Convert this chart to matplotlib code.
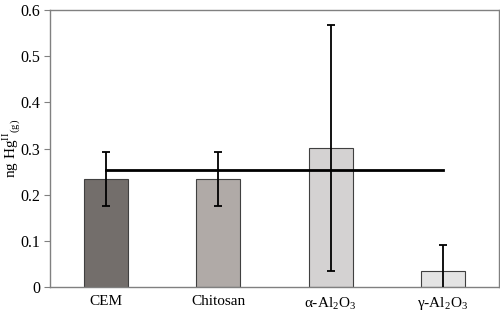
import matplotlib.pyplot as plt
import numpy as np

plt.rcParams["font.family"] = ["Liberation Serif", "DejaVu Serif"]
plt.rcParams["mathtext.fontset"] = "custom"
plt.rcParams["mathtext.rm"] = "Liberation Serif"

categories = ["CEM", "Chitosan", r"α-Al$_\mathregular{2}$O$_\mathregular{3}$",
              r"γ-Al$_\mathregular{2}$O$_\mathregular{3}$"]
values = [0.234, 0.234, 0.301, 0.035]
errors = [0.058, 0.058, 0.266, 0.056]
mean_line = 0.253
colors = ["#736e6b", "#b0aaa7", "#d4d2d2", "#e4e4e4"]


def plot():
    fig = plt.figure(figsize=(5.0, 3.16), dpi=100)
    ax = fig.add_axes([0.1, 0.092, 0.898, 0.876])
    x = np.arange(len(categories))
    ax.bar(x, values, width=0.39, color=colors, edgecolor="#404040", linewidth=0.8, zorder=2)
    ax.errorbar(x, values, yerr=errors, fmt="none", ecolor="black", elinewidth=1.3,
                capsize=3, capthick=1.3, zorder=4)
    ax.plot([x[0], x[-1]], [mean_line, mean_line], color="black", linewidth=2, zorder=3)

    ax.set_xlim(-0.5, len(categories) - 0.5)
    ax.set_ylim(0, 0.6)
    ax.set_yticks(np.arange(0, 0.61, 0.1))
    ax.set_yticklabels(["0", "0.1", "0.2", "0.3", "0.4", "0.5", "0.6"])
    ax.set_xticks(x)
    ax.set_xticklabels(categories)
    ax.tick_params(axis="x", length=0, pad=6, labelsize=11)
    ax.tick_params(axis="y", direction="out", length=4, labelsize=11.5, color="#808080", pad=3)
    for s in ax.spines.values():
        s.set_color("#808080")
        s.set_linewidth(1)
    ax.set_ylabel(r"ng Hg$^{\mathregular{II}}{}_{\mathregular{(g)}}$", fontsize=11,
                  va="center")
    ax.yaxis.set_label_coords(-0.087, 0.5)
    fig.savefig("out.png", dpi=100)


if __name__ == "__main__":
    plot()
